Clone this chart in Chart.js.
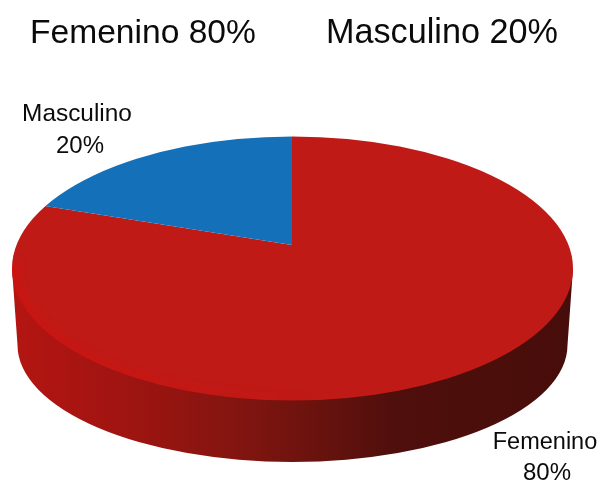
<!DOCTYPE html>
<html>
<head>
<meta charset="utf-8">
<style>html,body{margin:0;padding:0;background:#fff}canvas{display:block}</style>
<script src="https://cdn.jsdelivr.net/npm/chart.js@4"></script>
</head>
<body>
<canvas id="c" width="601" height="481"></canvas>
<script>
const categories = ["Femenino", "Masculino"];
const values = [80, 20];
const sliceColors = ["#c01a16", "#1470b8"];
const titles = ["Femenino 80%", "Masculino 20%"];
const pieLabels = ["Femenino 80%", "Masculino 20%"];

const FONT = '"Liberation Sans", Arial, sans-serif';
const TOP = {cx: 292.5, cy: 268.5, rx: 280.5, ry: 132};
const BASE = {cx: 292.5, cy: 345, rx: 275, ry: 117};
const TILT = 0.486;

const pie3d = {
  id: "pie3d",
  beforeDatasetsDraw(chart) {
    const ctx = chart.ctx;
    const arc = chart.getDatasetMeta(0).data[0];
    const {x, y} = arc.getProps(["x", "y"], true);

    // wall of the disc
    const g = ctx.createLinearGradient(TOP.cx - TOP.rx, 0, TOP.cx + TOP.rx, 0);
    g.addColorStop(0, "#b41512");
    g.addColorStop(0.2, "#a01411");
    g.addColorStop(0.38, "#861510");
    g.addColorStop(0.52, "#6e130e");
    g.addColorStop(0.68, "#4f0f0c");
    g.addColorStop(1, "#470d0a");
    ctx.save();
    ctx.fillStyle = g;
    ctx.beginPath();
    ctx.moveTo(TOP.cx - TOP.rx, TOP.cy);
    ctx.lineTo(BASE.cx - BASE.rx, BASE.cy);
    ctx.ellipse(BASE.cx, BASE.cy, BASE.rx, BASE.ry, 0, Math.PI, 0, true);
    ctx.lineTo(TOP.cx + TOP.rx, TOP.cy);
    ctx.closePath();
    ctx.fill();
    ctx.restore();

    // top face: slices tilted about their apex, trimmed to the rim
    ctx.save();
    ctx.beginPath();
    ctx.ellipse(TOP.cx, TOP.cy, TOP.rx, TOP.ry, 0, 0, Math.PI * 2);
    ctx.clip();
    ctx.translate(x, y);
    ctx.scale(1, TILT);
    ctx.translate(-x, -y);
  },
  afterDatasetsDraw(chart) {
    const ctx = chart.ctx;
    ctx.restore();

    // soft brighter rim at the lower left of the top face
    const rim = ctx.createLinearGradient(TOP.cx - TOP.rx, 0, TOP.cx + 20, 0);
    rim.addColorStop(0, "rgba(214,14,14,0.4)");
    rim.addColorStop(1, "rgba(214,14,14,0)");
    ctx.save();
    ctx.beginPath();
    ctx.ellipse(TOP.cx, TOP.cy, TOP.rx, TOP.ry, 0, 0, Math.PI * 2);
    ctx.clip();
    ctx.filter = "blur(3px)";
    ctx.strokeStyle = rim;
    ctx.lineWidth = 14;
    ctx.beginPath();
    ctx.ellipse(TOP.cx, TOP.cy, TOP.rx, TOP.ry, 0, Math.PI * 1.02, Math.PI * 0.4, true);
    ctx.stroke();
    ctx.restore();

    ctx.save();
    ctx.fillStyle = "#0b0b0b";
    ctx.textBaseline = "alphabetic";
    ctx.textAlign = "left";
    ctx.font = "33.6px " + FONT;
    ctx.fillText(titles[0], 30, 43);
    ctx.font = "34.2px " + FONT;
    ctx.fillText(titles[1], 326, 43);
    ctx.textAlign = "center";
    ctx.font = "24.4px " + FONT;
    const m = pieLabels[1].split(" ");
    ctx.fillText(m[0], 77, 121);
    ctx.font = "24px " + FONT;
    ctx.fillText(m[1], 80, 153);
    const f = pieLabels[0].split(" ");
    ctx.font = "23.5px " + FONT;
    ctx.fillText(f[0], 545, 449);
    ctx.font = "24px " + FONT;
    ctx.fillText(f[1], 547, 480);
    ctx.restore();
  }
};

new Chart(document.getElementById("c"), {
  type: "pie",
  data: {
    labels: categories,
    datasets: [{
      data: values,
      backgroundColor: sliceColors,
      borderWidth: 0,
      clip: false,
      radius: 420,
      hoverOffset: 0
    }]
  },
  options: {
    responsive: false,
    animation: false,
    layout: {padding: {left: 0, right: 17, top: 9, bottom: 0}},
    plugins: {legend: {display: false}, tooltip: {enabled: false}, title: {display: false}}
  },
  plugins: [pie3d]
});
</script>
</body>
</html>
